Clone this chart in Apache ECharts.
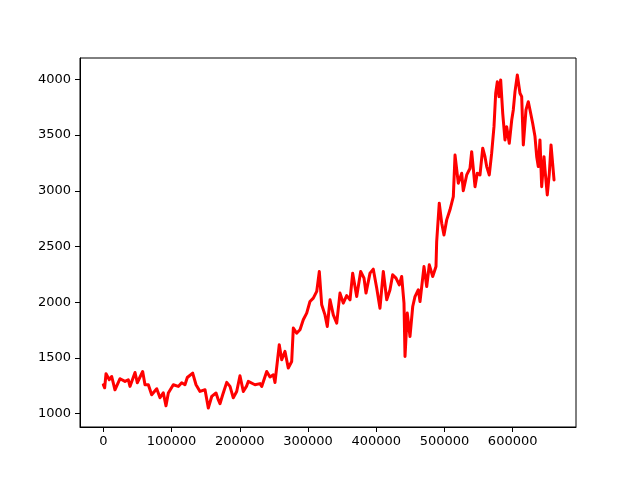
<!DOCTYPE html>
<html>
<head>
<meta charset="utf-8">
<script src="https://cdn.jsdelivr.net/npm/echarts@6/dist/echarts.min.js"></script>
<style>
  html, body { margin: 0; padding: 0; background: #fff; }
  #chart { width: 640px; height: 480px; }
</style>
</head>
<body>
<div id="chart"></div>
<script>
// sample positions (index along the series)
const xs = [
  0, 2000, 4000, 8800, 12300, 17100, 24500, 31800, 36600, 39100,
  46500, 49800, 57700, 61100, 66000, 70900, 78300, 83100, 87900, 91900,
  95300, 102600, 109900, 114900, 119700, 123100, 131000, 135900, 141700, 149100,
  153900, 158900, 165200, 168500, 171000, 175000, 180900, 185700, 190500, 195500,
  200300, 205200, 210200, 212500, 215000, 222300, 229700, 232200, 239500, 244300,
  249200, 251600, 257900, 261500, 266300, 271100, 276100, 278500, 283400, 288300,
  293100, 298100, 302900, 307800, 312800, 316600, 320100, 324900, 328300, 332300,
  337100, 342100, 346900, 351700, 356700, 361600, 365500, 371400, 377200, 382100,
  385000, 390900, 395700, 400700, 405500, 410400, 415400, 420200, 424100, 429000,
  433800, 437300, 440700, 442200, 445500, 449500, 453500, 456800, 461700, 464200,
  470000, 474000, 477800, 482800, 487600, 488600, 492400, 496000, 499300, 503300,
  508100, 513000, 515500, 520300, 525300, 527600, 532600, 537400, 539900, 544800,
  548100, 552100, 556100, 559400, 561900, 565700, 569200, 572600, 575100, 577500,
  579900, 582400, 585400, 588700, 591200, 595000, 598600, 600900, 603400, 606800,
  610700, 613200, 615600, 619500, 622900, 625400, 629300, 632700, 635200, 637500,
  640000, 642500, 645900, 647400, 650700, 653700, 656200, 657200, 660600
];
// values
const ys = [
  1260, 1233, 1359, 1305, 1334, 1215, 1314, 1290, 1305, 1245,
  1370, 1278, 1379, 1260, 1260, 1170, 1224, 1143, 1188, 1071,
  1186, 1260, 1245, 1278, 1260, 1325, 1365, 1260, 1200, 1215,
  1051, 1155, 1186, 1126, 1090, 1170, 1281, 1245, 1143, 1200,
  1341, 1200, 1250, 1290, 1280, 1260, 1270, 1245, 1379, 1330,
  1350, 1280, 1619, 1484, 1559, 1410, 1469, 1768, 1723, 1753,
  1843, 1903, 2007, 2037, 2097, 2276, 1977, 1887, 1783, 2022,
  1887, 1813, 2082, 1992, 2060, 2022, 2261, 2051, 2276, 2216,
  2082, 2261, 2297, 2127, 1947, 2276, 2022, 2112, 2246, 2216,
  2156, 2231, 1992, 1514, 1903, 1693, 1962, 2051, 2112, 2007,
  2320, 2141, 2336, 2231, 2320, 2544, 2889, 2709, 2604, 2739,
  2829, 2948, 3320, 3068, 3157, 3000, 3142, 3200, 3351, 3037,
  3157, 3142, 3382, 3306, 3217, 3142, 3337, 3575, 3875, 3978,
  3844, 3994, 3695, 3456, 3575, 3426, 3635, 3725, 3889, 4039,
  3875, 3844, 3411, 3725, 3799, 3725, 3606, 3486, 3306, 3217,
  3456, 3037, 3306, 3187, 2963, 3157, 3411, 3426, 3097, 3202
];
// tick labels
const xTicks = [0, 100000, 200000, 300000, 400000, 500000, 600000];
const yTicks = [1000, 1500, 2000, 2500, 3000, 3500, 4000];

const seriesData = xs.map((x, i) => [x, ys[i]]);

const myChart = echarts.init(document.getElementById('chart'), null, { renderer: 'canvas' });
const labelFont = {
  color: '#000',
  fontSize: 13,
  fontFamily: 'DejaVu Sans',
};
const option = {
  animation: false,
  grid: {
    left: 80,
    top: 58,
    width: 496,
    height: 369,
    show: true,
    borderColor: '#000',
    borderWidth: 1,
    backgroundColor: '#fff',
  },
  xAxis: {
    type: 'value',
    min: -34150,
    max: 692800,
    axisLine: { show: true, onZero: false, lineStyle: { color: '#000', width: 1 } },
    axisTick: { show: true, inside: false, length: 5, customValues: xTicks, lineStyle: { color: '#000' } },
    axisLabel: Object.assign({ margin: 8, customValues: xTicks, formatter: (v) => String(v) }, labelFont),
    splitLine: { show: false },
  },
  yAxis: {
    type: 'value',
    min: 881,
    max: 4191,
    axisLine: { show: true, onZero: false, lineStyle: { color: '#000', width: 1 } },
    axisTick: { show: true, inside: false, length: 5, customValues: yTicks, lineStyle: { color: '#000' } },
    axisLabel: Object.assign({ margin: 9, customValues: yTicks, formatter: (v) => String(v) }, labelFont),
    splitLine: { show: false },
  },
  series: [
    {
      type: 'line',
      data: seriesData,
      showSymbol: false,
      lineStyle: { color: '#ff0000', width: 3, join: 'round', cap: 'round' },
    },
  ],
};
myChart.setOption(option);
</script>
</body>
</html>
